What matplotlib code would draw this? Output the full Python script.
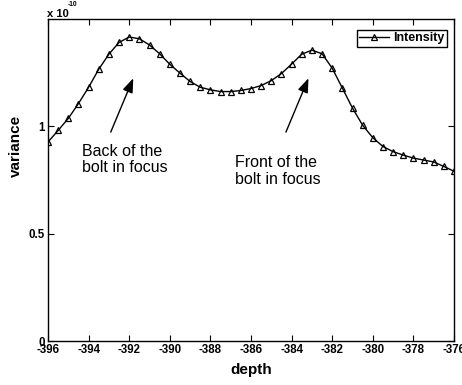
import numpy as np
import matplotlib
matplotlib.use("Agg")
import matplotlib.pyplot as plt

plt.rcParams['font.family'] = ['Liberation Sans', 'DejaVu Sans']

# focus sweep: depth positions and image variance (units of 1e-10)
depth = np.arange(-396, -375.9, 0.5)
variance = [0.927, 0.981, 1.037, 1.106, 1.182, 1.266, 1.336, 1.391, 1.416, 1.408,
            1.379, 1.338, 1.289, 1.248, 1.209, 1.182, 1.170, 1.162, 1.162, 1.167,
            1.176, 1.190, 1.213, 1.246, 1.290, 1.336, 1.355, 1.338, 1.271, 1.178,
            1.085, 1.005, 0.947, 0.906, 0.882, 0.866, 0.852, 0.843, 0.834, 0.813,
            0.791]

xticks = list(range(-396, -375, 2))
yticks = [0, 0.5, 1]
ytick_labels = ['0', '0.5', '1']

# (text, text pos, arrow tail, arrow head) in data units
notes = [
    ("Back of the\nbolt in focus", (-394.34, 0.92), (-392.91, 0.973), (-391.80, 1.224)),
    ("Front of the\nbolt in focus", (-386.79, 0.865), (-384.28, 0.973), (-383.17, 1.224)),
]

fig = plt.figure(figsize=(4.62, 3.85), dpi=100)
ax = fig.add_axes([48 / 462, 44 / 385, 406 / 462, 322 / 385])

ax.plot(depth, variance, color='black', lw=1.0, marker='^', markersize=5,
        markerfacecolor='none', markeredgecolor='black', markeredgewidth=0.9,
        label='Intensity')

ax.set_xlim(-396, -376)
ax.set_ylim(0, 1.5)
ax.set_xticks(xticks)
ax.set_xticklabels([str(t) for t in xticks], fontweight='bold', fontsize=8.3)
ax.set_yticks(yticks)
ax.set_yticklabels(ytick_labels, fontweight='bold', fontsize=8.3)
ax.tick_params(direction='in', length=4, width=0.8, top=True, right=True, pad=2)
for s in ax.spines.values():
    s.set_linewidth(1.0)

ax.set_xlabel('depth', fontweight='bold', fontsize=11)
ax.xaxis.set_label_coords(0.5, -0.068)
ax.set_ylabel('variance', fontweight='bold', fontsize=11)
ax.yaxis.set_label_coords(-0.062, 0.606)

# exponent multiplier above the y axis
ax.text(-0.002, 1.007, 'x 10', transform=ax.transAxes, fontsize=8,
        fontweight='bold', ha='left', va='baseline')
ax.text(0.049, 1.039, '-10', transform=ax.transAxes, fontsize=4.8,
        fontweight='bold', ha='left', va='baseline')

for label, tpos, tail, head in notes:
    ax.text(tpos[0], tpos[1], label, fontsize=11.5, ha='left', va='top',
            linespacing=1.1)
    ax.annotate('', xy=head, xytext=tail,
                arrowprops=dict(arrowstyle='-|>,head_length=0.86,head_width=0.32',
                                mutation_scale=10, color='black', lw=1.0,
                                shrinkA=0, shrinkB=0))

leg = ax.legend(loc='upper right', bbox_to_anchor=(0.983, 0.966),
                prop={'weight': 'bold', 'size': 9},
                fancybox=False, framealpha=1, edgecolor='black',
                handlelength=2.4, handletextpad=0.3, borderpad=0.2,
                borderaxespad=0)
leg.get_frame().set_linewidth(1.0)

fig.savefig('out.png', dpi=100)
